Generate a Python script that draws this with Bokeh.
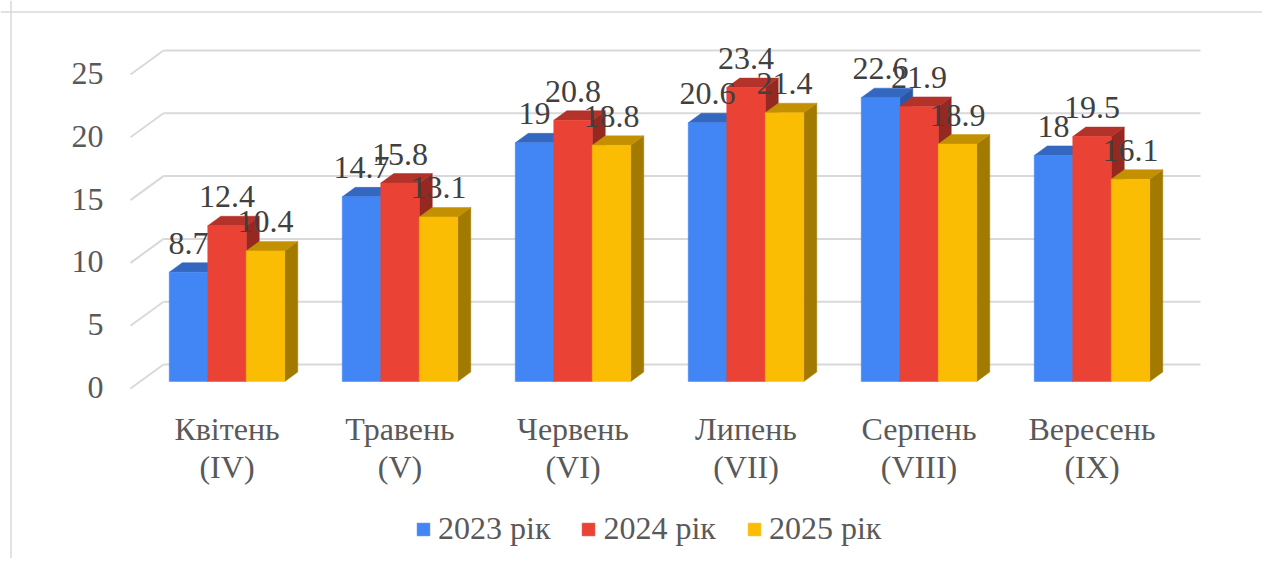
from bokeh.plotting import figure
from bokeh.models import ColumnDataSource, Legend, LegendItem, Range1d, Span
from bokeh.core.properties import value
from bokeh.embed import file_html
from bokeh.resources import INLINE

# ---- data ----
months = ["Квітень", "Травень", "Червень", "Липень", "Серпень", "Вересень"]
roman = ["(IV)", "(V)", "(VI)", "(VII)", "(VIII)", "(IX)"]
series_names = ["2023 рік", "2024 рік", "2025 рік"]
v2023 = [8.7, 14.7, 19, 20.6, 22.6, 18]
v2024 = [12.4, 15.8, 20.8, 23.4, 21.9, 19.5]
v2025 = [10.4, 13.1, 18.8, 21.4, 18.9, 16.1]
y_ticks = [0, 5, 10, 15, 20, 25]

# ---- layout / style constants ----
W, H = 1262, 558
PX_X = 173.0          # pixels per category
PX_Y = 12.56          # pixels per value unit
X0 = 226.5            # canvas x of first category centre
Y0 = 381              # canvas y of value 0 (front plane of bars)
FONT = '"Liberation Serif", "Times New Roman", serif'
FS = "32px"

def sx(px):  # canvas px -> data x
    return (px - X0) / PX_X

def sy(py):  # canvas px -> data y
    return (Y0 - py) / PX_Y

front_cols = ["#4285F4", "#EA4335", "#FBBC04"]
top_cols = ["#3367C0", "#B3322A", "#C29000"]
side_cols = ["#2B57A6", "#952820", "#A37A00"]

p = figure(width=W, height=H, output_backend="svg", toolbar_location=None,
           x_axis_type=None, y_axis_type=None, min_border=0,
           x_range=Range1d((0 - X0) / PX_X, (W - X0) / PX_X),
           y_range=Range1d((Y0 - H) / PX_Y, Y0 / PX_Y),
           background_fill_color="white", border_fill_color="white")
p.outline_line_color = None

# chart border (top and left visible)
p.add_layout(Span(location=sx(10.5), dimension="height", line_color="#D9D9D9", line_width=1.5))
p.add_layout(Span(location=sy(11.5), dimension="width", line_color="#D9D9D9", line_width=1.5))

# back wall gridlines and left-wall diagonals
back_dy = 17 / PX_Y
front_dy = -7 / PX_Y
gx0, gx1, fx = sx(163), sx(1200), sx(130)
p.segment(x0=[gx0] * len(y_ticks), y0=[t + back_dy for t in y_ticks],
          x1=[gx1] * len(y_ticks), y1=[t + back_dy for t in y_ticks],
          line_color="#D9D9D9", line_width=2)
p.segment(x0=[fx] * len(y_ticks), y0=[t + front_dy for t in y_ticks],
          x1=[gx0] * len(y_ticks), y1=[t + back_dy for t in y_ticks],
          line_color="#D9D9D9", line_width=2)

# y tick labels
p.text(x=[sx(103)] * len(y_ticks), y=[t - 6 / PX_Y for t in y_ticks],
       text=[str(t) for t in y_ticks], text_align="right", text_baseline="middle",
       text_font=value(FONT), text_font_size=FS, text_color="#595959")

# bars (pseudo-3D)
bw = 38.5 / PX_X
ddx = 13 / PX_X
ddy = 9.5 / PX_Y
front_renderers = []
for i, vals in enumerate([v2023, v2024, v2025]):
    cx = [g + (i - 1) * bw for g in range(len(vals))]
    left = [c - bw / 2 for c in cx]
    right = [c + bw / 2 for c in cx]
    side_xs = [[r, r + ddx, r + ddx, r] for r in right]
    side_ys = [[0, ddy, v + ddy, v] for v in vals]
    top_xs = [[l, r, r + ddx, l + ddx] for l, r in zip(left, right)]
    top_ys = [[v, v, v + ddy, v + ddy] for v in vals]
    p.patches(side_xs, side_ys, fill_color=side_cols[i], line_color=side_cols[i], line_width=0.5)
    p.patches(top_xs, top_ys, fill_color=top_cols[i], line_color=top_cols[i], line_width=0.5)
    r = p.quad(left=left, right=right, bottom=[0] * len(vals), top=vals,
               fill_color=front_cols[i], line_color=front_cols[i], line_width=0.5)
    front_renderers.append(r)

# data labels
for i, vals in enumerate([v2023, v2024, v2025]):
    cx = [g + (i - 1) * bw for g in range(len(vals))]
    p.text(x=cx, y=[v + 29 / PX_Y for v in vals], text=[f"{v:g}" for v in vals],
           text_align="center", text_baseline="middle",
           text_font=value(FONT), text_font_size=FS, text_color="#404040")

# category labels
gx = list(range(len(months)))
p.text(x=gx, y=[sy(428.5)] * len(months), text=months, text_align="center",
       text_baseline="middle", text_font=value(FONT), text_font_size=FS,
       text_color="#595959")
p.text(x=gx, y=[sy(466.5)] * len(roman), text=roman, text_align="center",
       text_baseline="middle", text_font=value(FONT), text_font_size=FS,
       text_color="#595959")

legend = Legend(items=[LegendItem(label=n, renderers=[r]) for n, r in zip(series_names, front_renderers)],
                orientation="horizontal", location=(415, H - 547),
                glyph_width=16, glyph_height=16, label_standoff=7, spacing=30,
                padding=0, margin=0, border_line_color=None, background_fill_alpha=0,
                label_text_font=FONT, label_text_font_size=FS, label_text_color="#595959")
p.add_layout(legend)

open("out.html", "w").write(file_html(p, INLINE))
